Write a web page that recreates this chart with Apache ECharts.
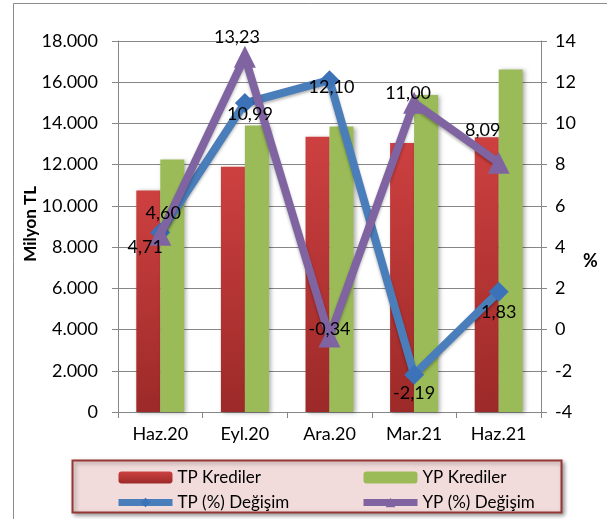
<!DOCTYPE html>
<html>
<head>
<meta charset="utf-8">
<script src="https://cdn.jsdelivr.net/npm/echarts@6/dist/echarts.min.js"></script>
<style>
  html, body { margin: 0; padding: 0; background: #fff; }
  #chart { width: 607px; height: 519px; }
</style>
</head>
<body>
<div id="chart"></div>
<script>
var categories = ['Haz.20', 'Eyl.20', 'Ara.20', 'Mar.21', 'Haz.21'];
var tpKrediler = [10750, 11900, 13350, 13050, 13330];
var ypKrediler = [12250, 13900, 13850, 15380, 16620];
var tpDegisim = [4.71, 10.99, 12.10, -2.19, 1.83];
var ypDegisim = [4.60, 13.23, -0.34, 11.00, 8.09];

// label placement for each point (style only)
var tpLabelPos = [[-15, 15], [5, 11], [2, 7], [0, 18], [0, 20]];
var ypLabelPos = [[3, -22], [-8, -20], [0, -7], [-6, -10], [-16, -33]];

var font = 'Lato, "Open Sans", sans-serif';

function trNum(v) {
    return String(v).replace(/\B(?=(\d{3})+(?!\d))/g, '.');
}
function pct(v) {
    return v.toFixed(2).replace('.', ',');
}
function lineData(values, pos) {
    return values.map(function (v, i) {
        return {
            value: v,
            label: { offset: pos[i] }
        };
    });
}
// transparent copy of a line, only used to draw its labels above all lines
function labelSeries(name, values, pos) {
    return {
        name: name + ' etiket',
        type: 'line',
        yAxisIndex: 1,
        data: lineData(values, pos),
        symbol: 'circle',
        symbolSize: 1,
        showSymbol: true,
        itemStyle: { color: 'rgba(0,0,0,0)' },
        lineStyle: { opacity: 0 },
        silent: true,
        label: {
            show: true, position: 'inside', fontSize: 18, color: '#000',
            formatter: function (p) { return pct(p.value); }
        },
        z: 20
    };
}

var chart = echarts.init(document.getElementById('chart'));
chart.setOption({
    animation: false,
    textStyle: { fontFamily: font },
    graphic: [
        {
            type: 'rect',
            shape: { x: 13.5, y: 3.5, width: 620, height: 540 },
            style: { fill: 'none', stroke: '#8c8c8c', lineWidth: 1 },
            z: -10
        },
        {
            type: 'rect',
            shape: { x: 72.5, y: 460.5, width: 489, height: 52 },
            style: {
                fill: '#f2dcdb', stroke: '#953735', lineWidth: 2,
                shadowBlur: 4, shadowColor: 'rgba(0,0,0,0.35)', shadowOffsetX: 2, shadowOffsetY: 2
            },
            z: -5
        },
        {
            type: 'text',
            left: 583, top: 252,
            style: { text: '%', fontSize: 18, fontWeight: 'bold', fill: '#000', fontFamily: font }
        },
        {
            type: 'text',
            left: 22, top: 186,
            rotation: Math.PI / 2,
            style: { text: 'Milyon TL', fontSize: 17, fontWeight: 'bold', fill: '#000', fontFamily: font }
        }
    ],
    grid: { left: 118, right: 66, top: 41, bottom: 107 },
    legend: [
        {
            orient: 'vertical',
            left: 110, top: 464,
            itemWidth: 54, itemHeight: 12, itemGap: 8,
            textStyle: { fontSize: 17, color: '#000', fontFamily: font },
            lineStyle: { width: 7 },
            data: ['TP Krediler', 'TP (%) Değişim']
        },
        {
            orient: 'vertical',
            left: 355, top: 464,
            itemWidth: 54, itemHeight: 12, itemGap: 8,
            textStyle: { fontSize: 17, color: '#000', fontFamily: font },
            lineStyle: { width: 7 },
            data: ['YP Krediler', 'YP (%) Değişim']
        }
    ],
    xAxis: {
        type: 'category',
        data: categories,
        axisLine: { lineStyle: { color: '#868686' } },
        axisTick: { show: true, length: 6, lineStyle: { color: '#868686' } },
        axisLabel: { fontSize: 18, color: '#000', margin: 13 }
    },
    yAxis: [
        {
            type: 'value',
            min: 0, max: 18000, interval: 2000,
            axisLine: { show: true, lineStyle: { color: '#868686' } },
            axisTick: { show: true, length: 6, lineStyle: { color: '#868686' } },
            axisLabel: { fontSize: 18, color: '#000', margin: 20, formatter: trNum },
            splitLine: { lineStyle: { color: '#868686' } }
        },
        {
            type: 'value',
            min: -4, max: 14, interval: 2,
            axisLine: { show: true, lineStyle: { color: '#868686' } },
            axisTick: { show: true, length: 6, lineStyle: { color: '#868686' } },
            axisLabel: { fontSize: 18, color: '#000', margin: 14 },
            splitLine: { show: false }
        }
    ],
    series: [
        {
            name: 'TP Krediler',
            type: 'bar',
            data: tpKrediler,
            barWidth: 24,
            barGap: '0%',
            itemStyle: {
                color: new echarts.graphic.LinearGradient(0, 0, 0, 1, [
                    { offset: 0, color: '#cd4040' },
                    { offset: 1, color: '#9c2a28' }
                ]),
                shadowBlur: 4, shadowColor: 'rgba(0,0,0,0.3)', shadowOffsetX: 2, shadowOffsetY: 1
            }
        },
        {
            name: 'YP Krediler',
            type: 'bar',
            data: ypKrediler,
            barWidth: 24,
            itemStyle: {
                color: '#9bbb59',
                shadowBlur: 4, shadowColor: 'rgba(0,0,0,0.3)', shadowOffsetX: 2, shadowOffsetY: 1
            }
        },
        {
            name: 'TP (%) Değişim',
            type: 'line',
            yAxisIndex: 1,
            data: tpDegisim,
            symbol: 'diamond',
            symbolSize: 20,
            lineStyle: { width: 8, color: '#4a7ebb', shadowBlur: 3, shadowColor: 'rgba(0,0,0,0.3)', shadowOffsetY: 2 },
            itemStyle: { color: '#3b72b8' },
            z: 5
        },
        {
            name: 'YP (%) Değişim',
            type: 'line',
            yAxisIndex: 1,
            data: ypDegisim,
            symbol: 'triangle',
            symbolSize: 22,
            lineStyle: { width: 8, color: '#8064a2', shadowBlur: 3, shadowColor: 'rgba(0,0,0,0.3)', shadowOffsetY: 2 },
            itemStyle: { color: '#8064a2' },
            z: 6
        },
        labelSeries('TP (%) Değişim', tpDegisim, tpLabelPos),
        labelSeries('YP (%) Değişim', ypDegisim, ypLabelPos)
    ]
});
</script>
</body>
</html>
